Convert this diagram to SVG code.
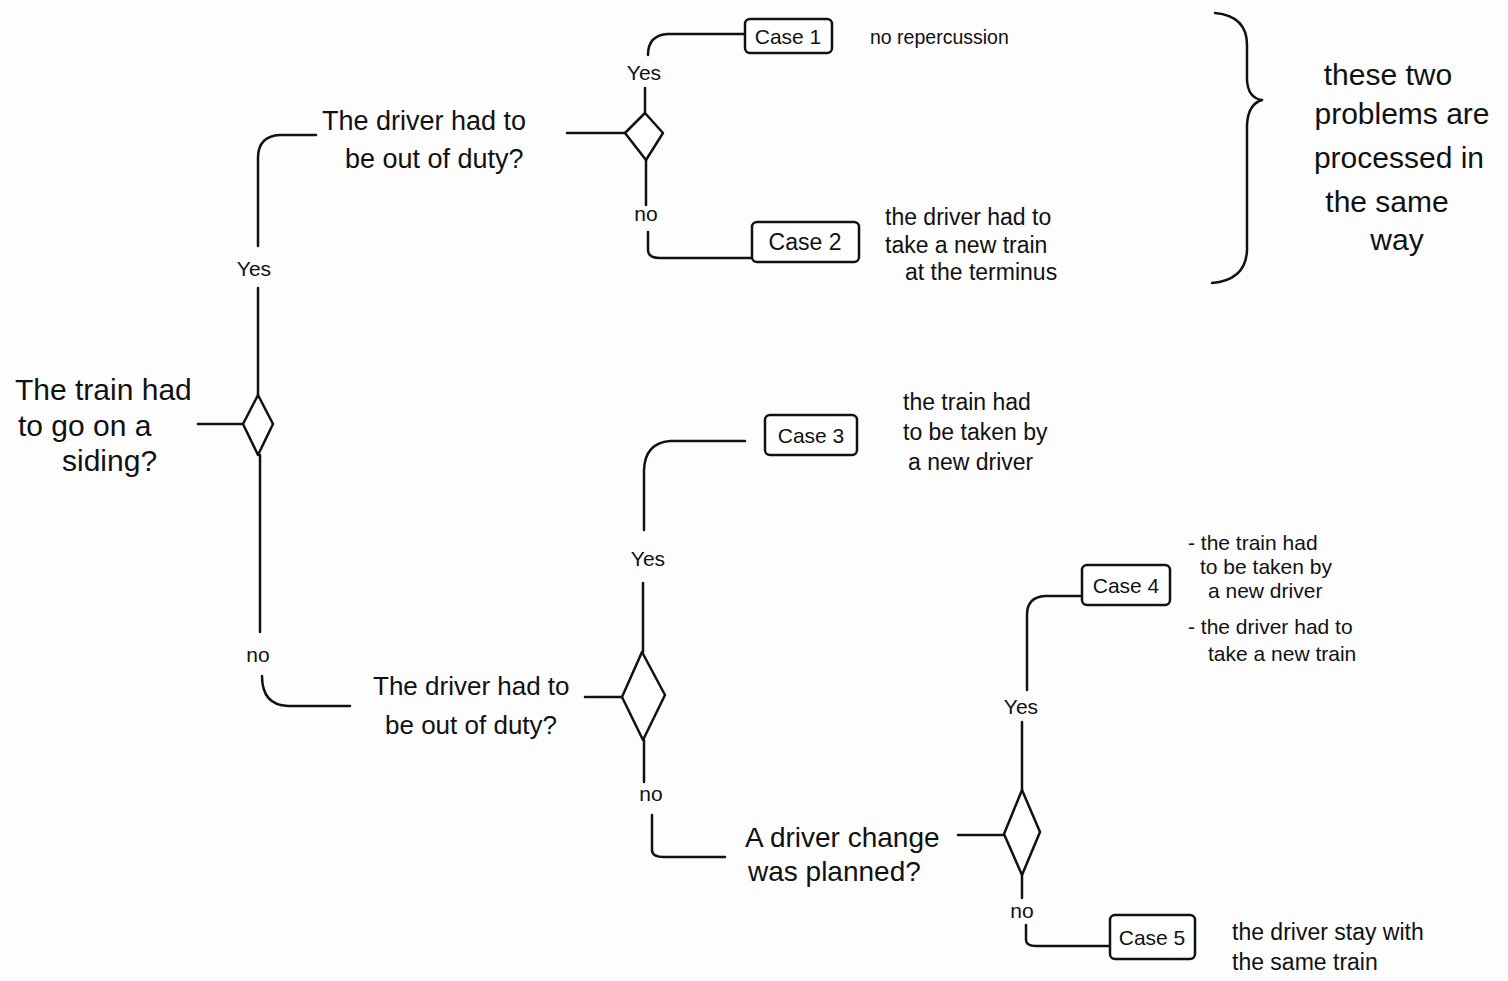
<svg xmlns="http://www.w3.org/2000/svg" width="1508" height="981" viewBox="0 0 1508 981">
<style>
.ln{fill:none;stroke:#111;stroke-width:2.5;stroke-linecap:round;stroke-linejoin:round}
.dm{fill:#fff;stroke:#111;stroke-width:2.5;stroke-linejoin:round}
.bx{fill:#fff;stroke:#111;stroke-width:2.5}
.q{font-family:"Liberation Sans",Arial,sans-serif;font-size:27px;fill:#111}
.lb{font-family:"Liberation Sans",Arial,sans-serif;font-size:21px;fill:#111;text-anchor:middle}
.cs{font-family:"Liberation Sans",Arial,sans-serif;font-size:21px;fill:#111;text-anchor:middle}
.an{font-family:"Liberation Sans",Arial,sans-serif;font-size:23px;fill:#111}
.big{font-family:"Liberation Sans",Arial,sans-serif;font-size:30px;fill:#111;text-anchor:middle}
</style>
<rect width="1508" height="981" fill="#fdfdfd"/>
<g id="connectors">
<path class="ln" d="M198 424 H243"/>
<path class="ln" d="M258 395 V288"/>
<path class="ln" d="M258 246 V158 Q258 136 280 135 H316"/>
<path class="ln" d="M260 455 V632"/>
<path class="ln" d="M262 676 Q262 705 288 706 H350"/>
<path class="ln" d="M567 133 H625"/>
<path class="ln" d="M645 113 V88"/>
<path class="ln" d="M648 55 Q648 35 668 34 H745"/>
<path class="ln" d="M646 160 V205"/>
<path class="ln" d="M648 232 V250 Q648 258 660 258 H752"/>
<path class="ln" d="M745 441 H670 Q645 443 644 470 V530"/>
<path class="ln" d="M643 583 V652"/>
<path class="ln" d="M585 697 H622"/>
<path class="ln" d="M644 740 V782"/>
<path class="ln" d="M652 815 V850 Q652 857 664 857 H725"/>
<path class="ln" d="M958 835 H1004"/>
<path class="ln" d="M1022 790 V722"/>
<path class="ln" d="M1027 690 V615 Q1027 597 1045 596 H1082"/>
<path class="ln" d="M1022 875 V898"/>
<path class="ln" d="M1026 925 V940 Q1026 946 1036 946 H1110"/>
<text class="lb" x="254" y="276">Yes</text>
<text class="lb" x="258" y="662">no</text>
<text class="lb" x="644" y="80">Yes</text>
<text class="lb" x="646" y="221">no</text>
<text class="lb" x="648" y="566">Yes</text>
<text class="lb" x="651" y="801">no</text>
<text class="lb" x="1021" y="714">Yes</text>
<text class="lb" x="1022" y="918">no</text>
</g>
<g id="q-siding">
<text class="q" x="15" y="400" style="font-size:30px">The train had</text>
<text class="q" x="18" y="436" style="font-size:30px">to go on a</text>
<text class="q" x="62" y="471" style="font-size:30px">siding?</text>
<path class="dm" d="M258 395 L273 424 L258 455 L243 424 Z"/>
</g>
<g id="q-duty-1">
<text class="q" x="322" y="130">The driver had to</text>
<text class="q" x="345" y="168">be out of duty?</text>
<path class="dm" d="M645 113 L663 133 L646 160 L625 133 Z"/>
</g>
<g id="case1">
<rect class="bx" x="745" y="19" width="87" height="34" rx="5"/>
<text class="cs" x="788" y="44">Case 1</text>
<text class="an" x="870" y="44" style="font-size:19.5px">no repercussion</text>
</g>
<g id="case2">
<rect class="bx" x="752" y="222" width="107" height="40" rx="5"/>
<text class="cs" x="805" y="250" style="font-size:23px">Case 2</text>
<text class="an" x="885" y="225">the driver had to</text>
<text class="an" x="885" y="253">take a new train</text>
<text class="an" x="905" y="280">at the terminus</text>
</g>
<g id="note-brace">
<path class="ln" d="M1215 13 Q1247 16 1247 45 V80 Q1248 98 1262 100 Q1248 104 1247 125 V250 Q1246 280 1212 283"/>
<text class="big" x="1388" y="85">these two</text>
<text class="big" x="1402" y="124">problems are</text>
<text class="big" x="1399" y="168">processed in</text>
<text class="big" x="1387" y="212">the same</text>
<text class="big" x="1397" y="250">way</text>
</g>
<g id="case3">
<rect class="bx" x="765" y="415" width="92" height="40" rx="5"/>
<text class="cs" x="811" y="443">Case 3</text>
<text class="an" x="903" y="410">the train had</text>
<text class="an" x="903" y="440">to be taken by</text>
<text class="an" x="908" y="470">a new driver</text>
</g>
<g id="q-duty-2">
<text class="q" x="373" y="695" style="font-size:26px">The driver had to</text>
<text class="q" x="385" y="734" style="font-size:26px">be out of duty?</text>
<path class="dm" d="M642 652 L665 695 L643 740 L622 697 Z"/>
</g>
<g id="case4">
<rect class="bx" x="1082" y="565" width="88" height="40" rx="5"/>
<text class="cs" x="1126" y="593">Case 4</text>
<text class="an" x="1188" y="550" style="font-size:21px">- the train had</text>
<text class="an" x="1200" y="574" style="font-size:21px">to be taken by</text>
<text class="an" x="1208" y="598" style="font-size:21px">a new driver</text>
<text class="an" x="1188" y="634" style="font-size:21px">- the driver had to</text>
<text class="an" x="1208" y="661" style="font-size:21px">take a new train</text>
</g>
<g id="q-change">
<text class="q" x="745" y="847" style="font-size:28px">A driver change</text>
<text class="q" x="748" y="881" style="font-size:28px">was planned?</text>
<path class="dm" d="M1022 790 L1040 832 L1022 875 L1004 834 Z"/>
</g>
<g id="case5">
<rect class="bx" x="1110" y="915" width="85" height="44" rx="5"/>
<text class="cs" x="1152" y="945">Case 5</text>
<text class="an" x="1232" y="940">the driver stay with</text>
<text class="an" x="1232" y="970">the same train</text>
</g>
</svg>
